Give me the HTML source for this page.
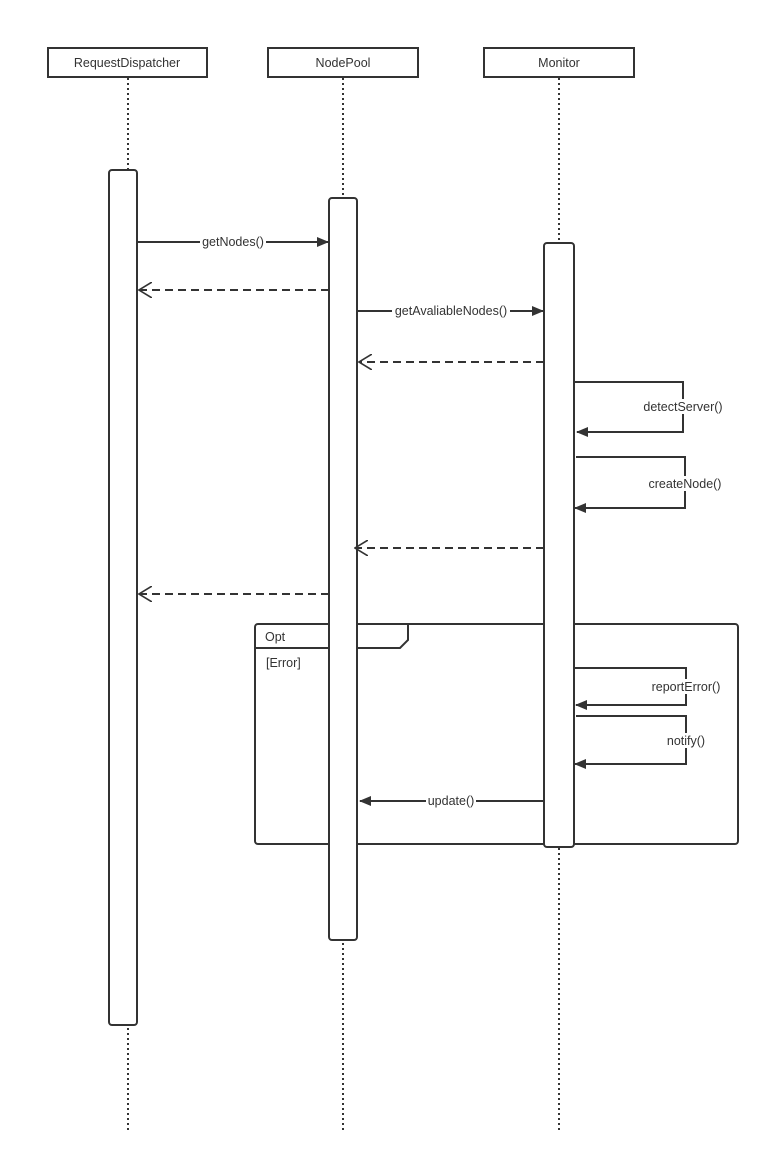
<!DOCTYPE html>
<html><head><style>body{margin:0;background:#fff}svg{display:block}text{font-family:"Liberation Sans",sans-serif;font-size:12.5px;fill:#333}</style></head><body>
<svg width="769" height="1163" viewBox="0 0 769 1163" xmlns="http://www.w3.org/2000/svg">
<defs>
<marker id="f" markerWidth="12" markerHeight="10" refX="11" refY="5" orient="auto" markerUnits="userSpaceOnUse"><path d="M0,0 L12,5 L0,10 Z" fill="#333"/></marker>
<marker id="o" markerWidth="14" markerHeight="16" refX="13" refY="8" orient="auto" markerUnits="userSpaceOnUse"><path d="M0,0 L13,8 L0,16" fill="none" stroke="#333" stroke-width="1.6"/></marker>
</defs>
<g stroke="#333" stroke-width="2" stroke-dasharray="2,3" fill="none">
<line x1="128" y1="78" x2="128" y2="1130"/><line x1="343" y1="78" x2="343" y2="1130"/><line x1="559" y1="78" x2="559" y2="1130"/>
</g>
<g fill="#fff" stroke="#333" stroke-width="2">
<rect x="48" y="48" width="159" height="29"/><rect x="268" y="48" width="150" height="29"/><rect x="484" y="48" width="150" height="29"/>
</g>
<text x="127" y="67" text-anchor="middle">RequestDispatcher</text>
<text x="343" y="67" text-anchor="middle">NodePool</text>
<text x="559" y="67" text-anchor="middle">Monitor</text>
<g fill="none" stroke="#333" stroke-width="2">
<rect x="255" y="624" width="483" height="220" rx="3"/>
<path d="M255,648 H400 L408,640 V624"/>
</g>
<text x="265" y="641">Opt</text>
<text x="266" y="667">[Error]</text>
<g fill="#fff" stroke="#333" stroke-width="2">
<rect x="109" y="170" width="28" height="855" rx="3"/>
<rect x="329" y="198" width="28" height="742" rx="3"/>
<rect x="544" y="243" width="30" height="604" rx="3"/>
</g>
<g fill="none" stroke="#333" stroke-width="2">
<line x1="137" y1="242" x2="328" y2="242" marker-end="url(#f)"/>
<line x1="329" y1="290" x2="139" y2="290" stroke-dasharray="8,5" marker-end="url(#o)"/>
<line x1="357" y1="311" x2="543" y2="311" marker-end="url(#f)"/>
<line x1="544" y1="362" x2="359" y2="362" stroke-dasharray="8,5" marker-end="url(#o)"/>
<path d="M574,382 H683 V432 H577" marker-end="url(#f)"/>
<path d="M576,457 H685 V508 H575" marker-end="url(#f)"/>
<line x1="544" y1="548" x2="355" y2="548" stroke-dasharray="8,5" marker-end="url(#o)"/>
<line x1="329" y1="594" x2="139" y2="594" stroke-dasharray="8,5" marker-end="url(#o)"/>
<path d="M574,668 H686 V705 H576" marker-end="url(#f)"/>
<path d="M576,716 H686 V764 H575" marker-end="url(#f)"/>
<line x1="544" y1="801" x2="360" y2="801" marker-end="url(#f)"/>
</g>
<g>
<rect x="200" y="234" width="66" height="15" fill="#fff"/><text x="233" y="246" text-anchor="middle">getNodes()</text>
<rect x="392" y="303" width="118" height="15" fill="#fff"/><text x="451" y="315" text-anchor="middle">getAvaliableNodes()</text>
<rect x="641" y="399" width="84" height="15" fill="#fff"/><text x="683" y="411" text-anchor="middle">detectServer()</text>
<rect x="647" y="476" width="76" height="15" fill="#fff"/><text x="685" y="488" text-anchor="middle">createNode()</text>
<rect x="649" y="679" width="74" height="15" fill="#fff"/><text x="686" y="691" text-anchor="middle">reportError()</text>
<rect x="665" y="733" width="42" height="15" fill="#fff"/><text x="686" y="745" text-anchor="middle">notify()</text>
<rect x="426" y="793" width="50" height="15" fill="#fff"/><text x="451" y="805" text-anchor="middle">update()</text>
</g>
</svg>
</body></html>
